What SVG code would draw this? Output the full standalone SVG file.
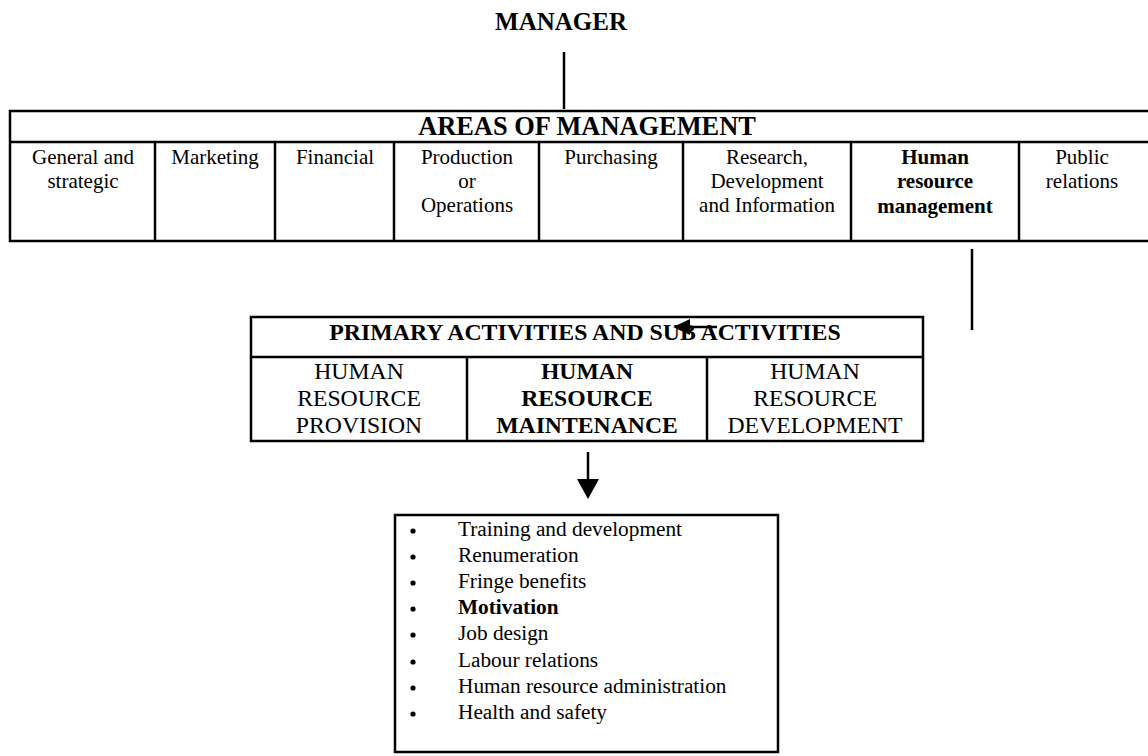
<svg xmlns="http://www.w3.org/2000/svg" width="1148" height="756" viewBox="0 0 1148 756">
<style>
text{font-family:"Liberation Serif","Times New Roman",serif;fill:#000;text-anchor:middle}
.b{font-weight:bold}
.c1{font-size:21px}
.c2{font-size:23.7px}
.li{font-size:21.3px;text-anchor:start}
.box{fill:#fff;stroke:#000;stroke-width:2.5}
.ln{stroke:#000;stroke-width:2.5;fill:none}
</style>
<rect width="1148" height="756" fill="#fff"/>
<g id="manager">
<text class="b" x="561" y="30" style="font-size:25px">MANAGER</text>
</g>
<g id="areas">
<rect class="box" x="10" y="111" width="1160" height="130"/>
<line class="ln" x1="10" y1="142" x2="1170" y2="142"/>
<line class="ln" x1="155" y1="142" x2="155" y2="241"/>
<line class="ln" x1="275" y1="142" x2="275" y2="241"/>
<line class="ln" x1="394" y1="142" x2="394" y2="241"/>
<line class="ln" x1="539" y1="142" x2="539" y2="241"/>
<line class="ln" x1="683" y1="142" x2="683" y2="241"/>
<line class="ln" x1="851" y1="142" x2="851" y2="241"/>
<line class="ln" x1="1019" y1="142" x2="1019" y2="241"/>
<text class="b" x="587" y="135" style="font-size:26.4px">AREAS OF MANAGEMENT</text>
<text class="c1" x="83" y="164">General and</text>
<text class="c1" x="83" y="188">strategic</text>
<text class="c1" x="215" y="164">Marketing</text>
<text class="c1" x="335" y="164">Financial</text>
<text class="c1" x="467" y="164">Production</text>
<text class="c1" x="467" y="188">or</text>
<text class="c1" x="467" y="212">Operations</text>
<text class="c1" x="611" y="164">Purchasing</text>
<text class="c1" x="767" y="164">Research,</text>
<text class="c1" x="767" y="188">Development</text>
<text class="c1" x="767" y="212">and Information</text>
<text class="c1 b" x="935" y="164">Human</text>
<text class="c1 b" x="935" y="188">resource</text>
<text class="c1 b" x="935" y="213">management</text>
<text class="c1" x="1082" y="164">Public</text>
<text class="c1" x="1082" y="188">relations</text>
</g>
<g id="primary">
<rect class="box" x="251" y="317" width="672" height="124"/>
<line class="ln" x1="251" y1="357" x2="923" y2="357"/>
<line class="ln" x1="467" y1="357" x2="467" y2="441"/>
<line class="ln" x1="707" y1="357" x2="707" y2="441"/>
<text class="b" x="585" y="340" style="font-size:23.8px">PRIMARY ACTIVITIES AND SUB ACTIVITIES</text>
<text class="c2" x="359" y="379">HUMAN</text>
<text class="c2" x="359" y="406">RESOURCE</text>
<text class="c2" x="359" y="433">PROVISION</text>
<text class="c2 b" x="587" y="379">HUMAN</text>
<text class="c2 b" x="587" y="406">RESOURCE</text>
<text class="c2 b" x="587" y="433">MAINTENANCE</text>
<text class="c2" x="815" y="379">HUMAN</text>
<text class="c2" x="815" y="406">RESOURCE</text>
<text class="c2" x="815" y="433">DEVELOPMENT</text>
</g>
<g id="list">
<rect class="box" x="395" y="515" width="383" height="237"/>
<g fill="#000">
<circle cx="413" cy="531" r="2.6"/>
<circle cx="413" cy="557" r="2.6"/>
<circle cx="413" cy="583" r="2.6"/>
<circle cx="413" cy="609" r="2.6"/>
<circle cx="413" cy="635" r="2.6"/>
<circle cx="413" cy="662" r="2.6"/>
<circle cx="413" cy="688" r="2.6"/>
<circle cx="413" cy="714" r="2.6"/>
</g>
<text class="li" x="458" y="536">Training and development</text>
<text class="li" x="458" y="562">Renumeration</text>
<text class="li" x="458" y="588">Fringe benefits</text>
<text class="li b" x="458" y="614">Motivation</text>
<text class="li" x="458" y="640">Job design</text>
<text class="li" x="458" y="667">Labour relations</text>
<text class="li" x="458" y="693">Human resource administration</text>
<text class="li" x="458" y="719">Health and safety</text>
</g>
<g id="connectors">
<line class="ln" x1="564" y1="52" x2="564" y2="109"/>
<line class="ln" x1="972" y1="249" x2="972" y2="330"/>
<line class="ln" x1="717" y1="327" x2="686" y2="327"/>
<polygon points="673,327 690,319 690,335" fill="#000"/>
<line class="ln" x1="588" y1="452" x2="588" y2="481"/>
<polygon points="588,499 577,479 599,479" fill="#000"/>
</g>
</svg>
